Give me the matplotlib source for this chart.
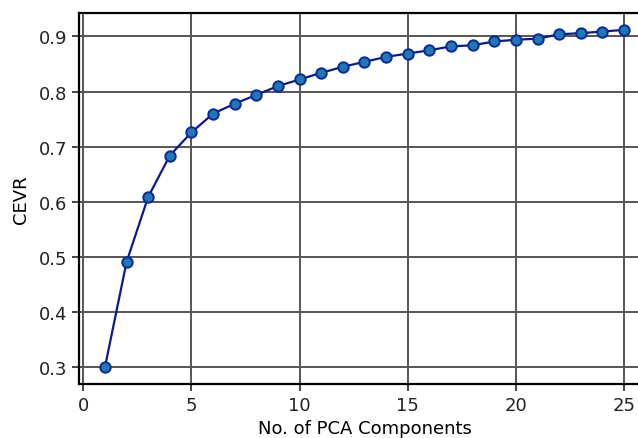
import matplotlib
matplotlib.use("Agg")
import matplotlib.pyplot as plt

components = list(range(1, 26))
cevr = [0.300, 0.491, 0.609, 0.684, 0.726, 0.760, 0.778, 0.794, 0.810, 0.822,
        0.834, 0.845, 0.854, 0.863, 0.869, 0.875, 0.882, 0.884, 0.891, 0.894,
        0.896, 0.904, 0.906, 0.909, 0.912]
xticks = [0, 5, 10, 15, 20, 25]
yticks = [0.3, 0.4, 0.5, 0.6, 0.7, 0.8, 0.9]

fig = plt.figure(figsize=(6.38, 4.39), dpi=100)
ax = fig.add_axes([79/638, 1 - 385/439, 571/638, (385 - 14)/439])
ax.plot(components, cevr, color="#0a1a8a", lw=1.6, marker="o", ms=7.5,
        mfc="#1f77b4", mec="#0a2a9a", mew=1.4, zorder=3)
ax.set_xlim(-0.2, 26.2)
ax.set_xticks(xticks)
ax.set_yticks(yticks)
ax.grid(True, color="#555555", lw=1.4)
ax.set_axisbelow(True)
for s in ax.spines.values():
    s.set_linewidth(1.6)
ax.tick_params(labelsize=13, length=5, width=1.2, colors="#222222")
ax.set_xlabel("No. of PCA Components", fontsize=13, labelpad=4)
ax.set_ylabel("CEVR", fontsize=13, labelpad=6)
fig.savefig("out.png", dpi=100)
